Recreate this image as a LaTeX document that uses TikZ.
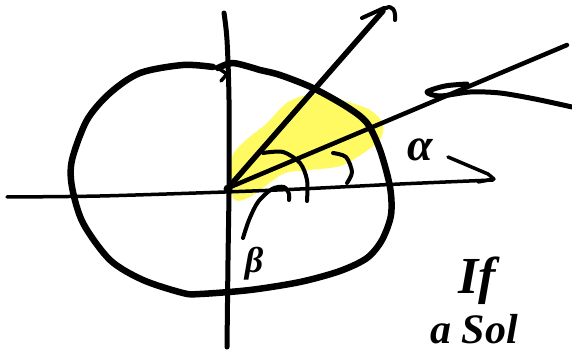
\documentclass[tikz,border=0pt]{standalone}
\usepackage{fontspec}
\newfontfamily\gkfont{Liberation Serif}
\begin{document}
\begin{tikzpicture}[x=1pt,y=-1pt,line cap=round,line join=round,
  ink/.style={draw=black,line width=#1},
  ink/.default=3.5pt,
  hilite/.style={fill={rgb,255:red,255;green,250;blue,80},draw=none,opacity=0.9},
  lbl/.style={inner sep=0pt,text=black}]
\useasboundingbox (0,0) rectangle (572,352);
\clip (0,0) rectangle (572,352);
% yellow highlight
\fill[hilite] plot[smooth cycle] coordinates {(233,198) (250,197) (283,174) (310,170) (343,165) (378,142) (383,124) (370,110) (345,101) (315,94) (288,102) (266,124) (246,140) (232,158)};
% circle (hand drawn)
\draw[ink=6.5pt] plot[smooth] coordinates {(213,67) (183,65) (140,73) (110,93) (87,120) (72,160) (72,187) (83,223) (110,260) (143,280) (183,293) (200,294) (250,290) (300,282) (340,271) (367,258) (382,240) (391,215) (390,187) (380,150) (367,123) (347,107) (313,88) (280,75) (260,70) (250,67) (232,63) (218,68)};
\draw[ink=3.5pt] (218,68) -- (227,74) -- (221,81);
% vertical axis
\draw[ink=5pt] plot[smooth] coordinates {(224,13) (227,40) (229,100) (229,188) (228,260) (227,347)};
% horizontal axis
\draw[ink=3.5pt] plot[smooth] coordinates {(7,197) (100,196) (225,192) (300,189) (400,184) (493,180)};
\fill (228,189) circle (4.5pt);
% ray 1 with arrowhead
\draw[ink=5.5pt] (228,188) -- (383,11);
\draw[ink=4pt] (362,18) -- (384,8);
\draw[ink=4pt] (386,8) .. controls (392,5) and (396,10) .. (395,20);
% ray 2 with scribble
\draw[ink=4.5pt] (228,188) -- (567,45);
\draw[ink=5pt] plot[smooth] coordinates {(467,84) (445,86) (427,92) (440,96) (470,92) (500,93) (535,99) (572,107)};
% angle arcs
\draw[ink=4pt] plot[smooth] coordinates {(263,153) (283,152) (300,163) (307,180) (307,201)};
\draw[ink=4pt] plot[smooth] coordinates {(333,153) (346,157) (352,172) (347,183)};
% pointer from beta to angle
\draw[ink=4pt] plot[smooth] coordinates {(243,238) (249,220) (258,202) (272,189) (284,187) (289,194) (289,200)};
% alpha stroke to axis end
\draw[ink=3.5pt] (448,157) -- (488,174) -- (494,179) -- (478,182);
% labels
\node[lbl,font=\fontsize{46}{46}\selectfont\gkfont\itshape\bfseries] (alpha) at (420,150) {α};
\node[lbl,font=\fontsize{36}{36}\selectfont\gkfont\itshape\bfseries] (beta) at (254,264) {β};
\node[lbl,font=\fontsize{52}{52}\selectfont\gkfont\itshape\bfseries,anchor=base west] (if) at (458,294) {If};
\node[lbl,font=\fontsize{42}{42}\selectfont\gkfont\itshape\bfseries,anchor=base west] (sol) at (430,343) {a Sol};
\end{tikzpicture}
\end{document}
